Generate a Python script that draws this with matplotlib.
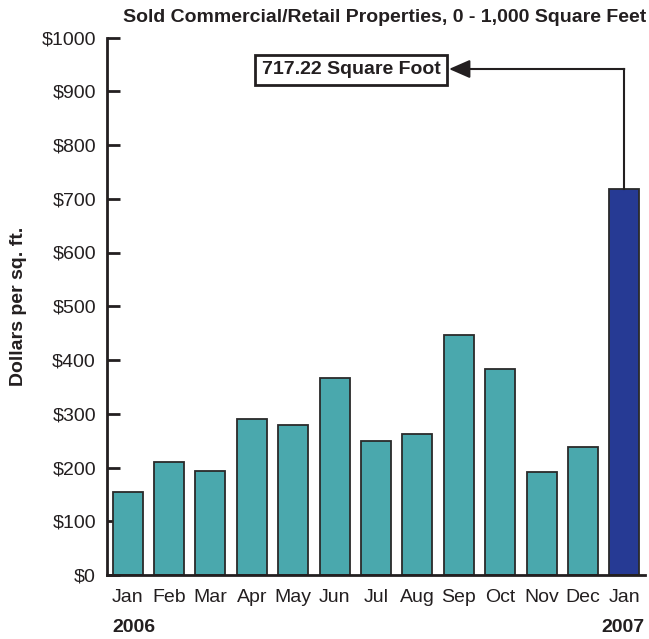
import matplotlib
matplotlib.use("Agg")
import matplotlib.pyplot as plt
from matplotlib.patches import FancyArrowPatch

plt.rcParams['font.family'] = ['Liberation Sans', 'DejaVu Sans']

months = ["Jan", "Feb", "Mar", "Apr", "May", "Jun", "Jul", "Aug", "Sep", "Oct", "Nov", "Dec", "Jan"]
values = [154, 210, 194, 290, 280, 367, 250, 263, 447, 383, 191, 238, 717.22]
years = ["2006", "2007"]
yticks = [0, 100, 200, 300, 400, 500, 600, 700, 800, 900, 1000]
ytick_labels = ["$" + str(v) for v in yticks]
title = "Sold Commercial/Retail Properties, 0 - 1,000 Square Feet"
ylabel = "Dollars per sq. ft."
callout = "717.22 Square Foot"

teal = "#4aa8ad"
blue = "#263a94"
ink = "#231f20"
colors = [teal] * (len(values) - 1) + [blue]

fig = plt.figure(figsize=(6.49, 6.39), dpi=100)
W, H = 649, 639
ax = fig.add_axes([107 / W, 1 - 575 / H, 538 / W, 537.5 / H])

x = list(range(len(values)))
ax.bar(x, values, width=0.725, color=colors, edgecolor="#2a2a2a", linewidth=1.3, zorder=2)

ax.set_xlim(-0.5, len(values) - 0.5)
ax.set_ylim(0, 1000)
ax.set_yticks(yticks)
ax.set_yticklabels(ytick_labels, fontsize=14, color=ink)
ax.set_xticks(x)
ax.set_xticklabels(months, fontsize=14, color=ink)
ax.tick_params(axis="y", direction="in", length=9.5, width=2, color=ink, pad=8)
ax.tick_params(axis="x", length=0, pad=10)

for s in ["top", "right"]:
    ax.spines[s].set_visible(False)
for s in ["left", "bottom"]:
    ax.spines[s].set_linewidth(2)
    ax.spines[s].set_color(ink)

ax.set_ylabel(ylabel, fontsize=14, fontweight="bold", labelpad=10, color=ink)
fig.text(646 / W, 1 - 18 / H, title, ha="right", va="center", fontsize=14, fontweight="bold", color=ink)

# Year labels
fig.text(112 / W, 1 - 628 / H, years[0], ha="left", va="center", fontsize=14, fontweight="bold", color=ink)
fig.text(645 / W, 1 - 628 / H, years[1], ha="right", va="center", fontsize=14, fontweight="bold", color=ink)

# Callout box and arrow
def px_to_data(px, py):
    inv = ax.transData.inverted()
    return inv.transform((px, H - py))

bx, by = px_to_data(351, 70)
ax.text(bx, by, callout, ha="center", va="center", fontsize=14, fontweight="bold", color=ink,
        bbox=dict(boxstyle="square,pad=0.35", facecolor="white", edgecolor=ink, linewidth=2))
last = len(values) - 1
_, ay = px_to_data(0, 69)
tipx, _ = px_to_data(449, 0)
ax.plot([last, last], [values[last], ay], color=ink, lw=1.5, zorder=3)
arr = FancyArrowPatch((last, ay), (tipx, ay), arrowstyle="-|>,head_length=8,head_width=3.5",
                      color=ink, lw=1.5, mutation_scale=1.6, shrinkA=0, shrinkB=0)
ax.add_patch(arr)

fig.savefig("out.png", dpi=100)
